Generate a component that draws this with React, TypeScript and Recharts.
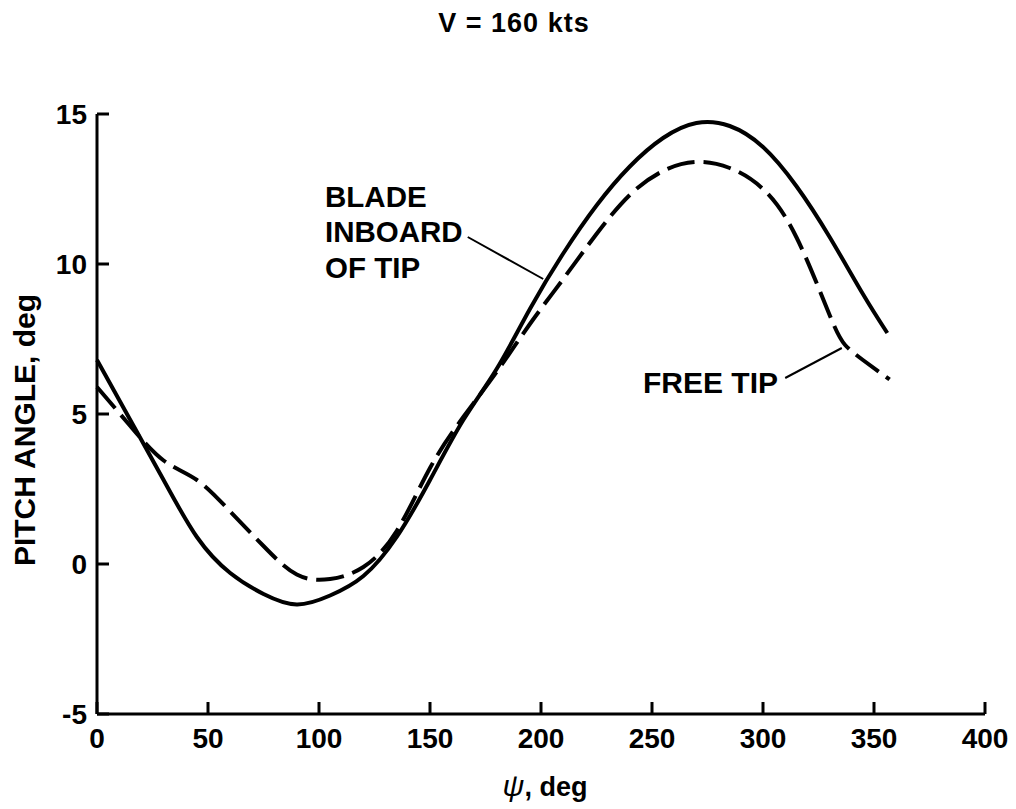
import React from "react";
import { LineChart, Line, XAxis, YAxis, ReferenceLine } from "recharts";

// blade inboard of tip (solid)
const inboardPsi = [0, 15, 30, 45, 60, 75, 90, 105, 120, 135, 150, 165, 180, 195, 210, 225, 240, 255, 270, 285, 300, 315, 330, 345, 356];
const inboardPitch = [6.8, 4.8, 2.8, 0.9, -0.3, -1.0, -1.35, -1.05, -0.4, 0.9, 2.8, 4.8, 6.5, 8.5, 10.35, 11.95, 13.25, 14.2, 14.7, 14.6, 13.9, 12.6, 10.9, 9.0, 7.7];

// free tip (dashed)
const freeTipPsi = [0, 15, 30, 45, 60, 75, 90, 105, 120, 135, 150, 165, 180, 195, 210, 225, 240, 255, 270, 285, 300, 315, 330, 337, 345, 357];
const freeTipPitch = [5.9, 4.6, 3.45, 2.8, 1.75, 0.6, -0.35, -0.5, -0.1, 1.1, 3.2, 4.9, 6.4, 8.0, 9.5, 11.0, 12.3, 13.1, 13.4, 13.2, 12.5, 10.9, 8.3, 7.3, 6.8, 6.15];

const xTicks = [0, 50, 100, 150, 200, 250, 300, 350, 400];
const yTicks = [-5, 0, 5, 10, 15];

const inboardData = inboardPsi.map((psi, i) => ({ psi, pitch: inboardPitch[i] }));
const freeTipData = freeTipPsi.map((psi, i) => ({ psi, pitch: freeTipPitch[i] }));

const FONT = '"Liberation Sans", Arial, sans-serif';
const tickStyle = { fill: "#000", fontSize: 28, fontWeight: 700, fontFamily: FONT };

export default function App() {
  return (
    <div style={{ position: "relative", width: 1000, height: 800, background: "#fff" }}>
      <LineChart
        width={1000}
        height={793}
        margin={{ top: 106, right: 23, left: 29, bottom: 37 }}
      >
        <XAxis
          type="number"
          dataKey="psi"
          domain={[0, 400]}
          ticks={xTicks}
          allowDuplicatedCategory={false}
          height={50}
          stroke="#000"
          strokeWidth={3}
          tickSize={-12}
          tickMargin={26}
          tick={tickStyle}
        />
        <YAxis
          type="number"
          domain={[-5, 15]}
          ticks={yTicks}
          width={60}
          stroke="#000"
          strokeWidth={3}
          tickSize={-12}
          tickMargin={22}
          tick={tickStyle}
        />
        <Line
          data={inboardData}
          dataKey="pitch"
          type="natural"
          stroke="#000"
          strokeWidth={4}
          dot={false}
          isAnimationActive={false}
        />
        <Line
          data={freeTipData}
          dataKey="pitch"
          type="natural"
          stroke="#000"
          strokeWidth={4}
          strokeDasharray="28 9"
          dot={false}
          isAnimationActive={false}
        />
        {/* leader lines for the curve labels */}
        <ReferenceLine
          segment={[{ x: 167, y: 10.9 }, { x: 201, y: 9.5 }]}
          stroke="#000"
          strokeWidth={2}
          ifOverflow="visible"
        />
        <ReferenceLine
          segment={[{ x: 310, y: 6.2 }, { x: 335.5, y: 7.2 }]}
          stroke="#000"
          strokeWidth={2}
          ifOverflow="visible"
        />
      </LineChart>

      <svg
        width={1000}
        height={800}
        style={{ position: "absolute", left: 0, top: 0, pointerEvents: "none", overflow: "visible" }}
        fontFamily={FONT}
        fontWeight={700}
        fill="#000"
      >
        <text x={506} y={24} fontSize={27} textAnchor="middle" letterSpacing={1}>
          V = 160 kts
        </text>
        <text
          transform="translate(16,422) rotate(-90)"
          fontSize={30}
          textAnchor="middle"
          dominantBaseline="central"
        >
          PITCH ANGLE, deg
        </text>
        <text x={537} y={788} fontSize={27} textAnchor="middle">
          <tspan fontStyle="italic" fontWeight={400} fontSize={30}>ψ</tspan>, deg
        </text>
        <text x={317} y={199} fontSize={29.5}>BLADE</text>
        <text x={317} y={234} fontSize={29.5}>INBOARD</text>
        <text x={317} y={270} fontSize={29.5}>OF TIP</text>
        <text x={635} y={385} fontSize={30}>FREE TIP</text>
      </svg>
    </div>
  );
}
